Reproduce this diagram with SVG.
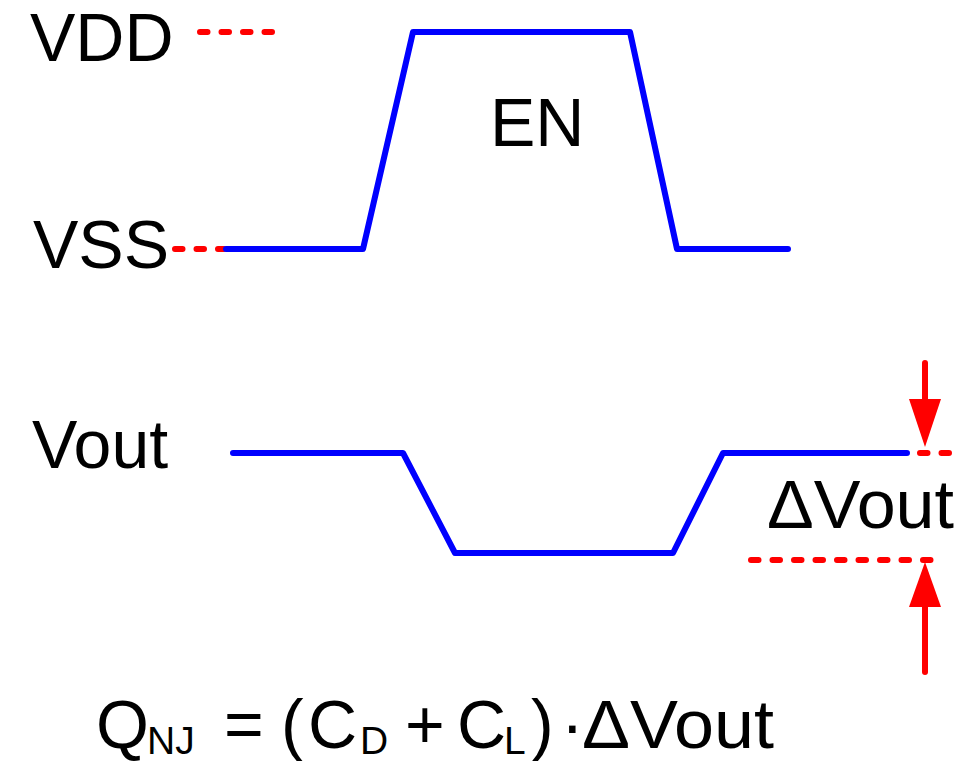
<svg xmlns="http://www.w3.org/2000/svg" width="966" height="761" viewBox="0 0 966 761">
  <style>
    .lbl { font-family: "Liberation Sans", Arial, sans-serif; font-size: 68px; fill: #000; }
    .sub { font-size: 39px; }
    .sig { fill: none; stroke: #0000FF; stroke-width: 6; stroke-linejoin: round; stroke-linecap: round; }
    .dash { fill: none; stroke: #FF0000; stroke-width: 6; stroke-linecap: round; stroke-dasharray: 7.5 14; }
    .arr { fill: none; stroke: #FF0000; stroke-width: 6; stroke-linecap: round; }
    .head { fill: #FF0000; stroke: none; }
  </style>
  <rect width="966" height="761" fill="#FFFFFF"/>

  <g id="labels">
    <text class="lbl" x="30" y="61">VDD</text>
    <text class="lbl" x="33" y="268">VSS</text>
    <text class="lbl" x="32" y="468">Vout</text>
  </g>

  <g id="connectors">
    <line class="dash" x1="200" y1="32" x2="272" y2="32"/>
    <line class="dash" x1="175" y1="249" x2="224" y2="249"/>
    <line class="dash" x1="920" y1="453" x2="951" y2="453"/>
    <line class="dash" x1="751" y1="560" x2="935" y2="560"/>
    <line class="arr" x1="925" y1="363" x2="925" y2="402"/>
    <polygon class="head" points="909,399 941,399 925,447"/>
    <line class="arr" x1="925" y1="604" x2="925" y2="672"/>
    <polygon class="head" points="925,562 909,607 941,607"/>
  </g>

  <g id="en">
    <path class="sig" d="M226,249 H363 L413,32 H630 L677,249 H788"/>
    <text class="lbl" x="490" y="146">EN</text>
  </g>

  <g id="vout">
    <path class="sig" d="M233,453 H403 L455,553 H673 L723,453 H907"/>
  </g>

  <g id="delta-vout">
    <text class="lbl" x="767" y="528" textLength="187" lengthAdjust="spacingAndGlyphs">ΔVout</text>
  </g>

  <g id="formula">
    <text class="lbl"><tspan x="96" y="748">Q</tspan><tspan class="sub" x="147" y="754">NJ</tspan><tspan x="224" y="748">=</tspan><tspan x="281" y="748">(</tspan><tspan x="308" y="748">C</tspan><tspan class="sub" x="360" y="754">D</tspan><tspan x="405" y="748">+</tspan><tspan x="457" y="748">C</tspan><tspan class="sub" x="504" y="754">L</tspan><tspan x="531" y="748">)</tspan></text>
    <text class="lbl" x="561" y="748">·</text>
    <text class="lbl" x="582" y="748" textLength="192" lengthAdjust="spacingAndGlyphs">ΔVout</text>
  </g>
</svg>
